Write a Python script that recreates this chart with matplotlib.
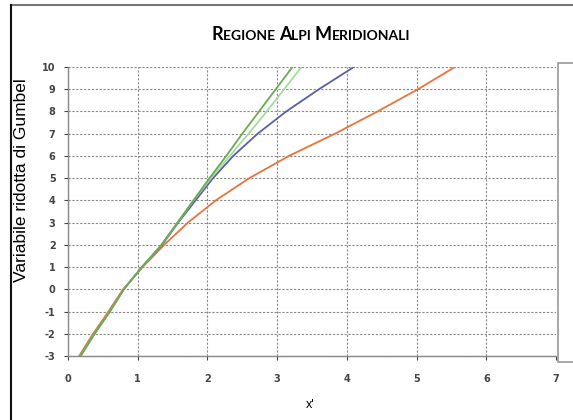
import numpy as np
import matplotlib
matplotlib.use("Agg")
import matplotlib.pyplot as plt
from matplotlib.lines import Line2D
from matplotlib.patches import Rectangle
from matplotlib.offsetbox import TextArea, HPacker, AnchoredOffsetbox

plt.rcParams["axes.unicode_minus"] = False

# variabile ridotta di Gumbel (asse y) e valori di x' letti per ogni curva
y_gumbel = [-3, -2, -1, 0, 1, 2, 3, 4, 5, 6, 7, 8, 9, 10]
x_arancio = [0.16, 0.36, 0.58, 0.79, 1.07, 1.38, 1.72, 2.12, 2.60, 3.17, 3.83, 4.44, 5.02, 5.55]
x_blu = [0.18, 0.38, 0.60, 0.80, 1.06, 1.35, 1.58, 1.83, 2.08, 2.37, 2.72, 3.13, 3.60, 4.10]
x_verde_chiaro = [0.18, 0.38, 0.60, 0.80, 1.06, 1.34, 1.57, 1.80, 2.05, 2.32, 2.59, 2.85, 3.10, 3.35]
x_verde = [0.18, 0.38, 0.60, 0.80, 1.06, 1.34, 1.57, 1.80, 2.03, 2.27, 2.50, 2.74, 2.98, 3.22]

W, H = 573, 420
fig = plt.figure(figsize=(W / 100, H / 100), dpi=100)
fig.patch.set_facecolor("white")

ax = fig.add_axes([68 / W, 1 - 356 / H, (556 - 68) / W, (356 - 67) / H])

ax.plot(x_arancio, y_gumbel, color="#e8743b", lw=1.3, zorder=3)
ax.plot(x_blu, y_gumbel, color="#5b5ea6", lw=1.3, zorder=3)
ax.plot(x_verde_chiaro, y_gumbel, color="#a6dba0", lw=1.3, zorder=3)
ax.plot(x_verde, y_gumbel, color="#6aaa52", lw=1.3, zorder=4)

ax.set_xlim(0, 7)
ax.set_ylim(-3, 10)
ax.set_xticks(range(0, 8))
ax.set_yticks(range(-3, 11))
ax.grid(True, color="#888888", linestyle=(0, (2, 1.5)), linewidth=0.8)
ax.set_axisbelow(True)
for s in ["top", "right"]:
    ax.spines[s].set_visible(False)
for s in ["left", "bottom"]:
    ax.spines[s].set_color("#888888")
    ax.spines[s].set_linewidth(1.0)
ax.tick_params(labelsize=7, colors="#444444", length=3, width=0.8)
ax.tick_params(axis="x", pad=10)
ax.tick_params(axis="y", pad=6)
for lab in ax.get_xticklabels() + ax.get_yticklabels():
    lab.set_fontweight("bold")

# titolo in maiuscoletto
parti = [("R", 13), ("EGIONE ", 10), ("A", 13), ("LPI ", 10), ("M", 13), ("ERIDIONALI", 10)]
box = HPacker(children=[TextArea(t, textprops=dict(fontsize=s, fontfamily="Lato",
                                                   fontweight="bold", color="black"))
                        for t, s in parti],
              align="baseline", pad=0, sep=0)
anch = AnchoredOffsetbox(loc="center", child=box, frameon=False, pad=0, borderpad=0,
                         bbox_to_anchor=(311 / W, 1 - 35 / H),
                         bbox_transform=fig.transFigure)
fig.add_artist(anch)

fig.text(22 / W, 1 - 180 / H, "Variabile ridotta di Gumbel", rotation=90,
         ha="center", va="center", fontsize=12.5, fontfamily="Liberation Sans")
fig.text(310 / W, 1 - 405 / H, "x'", ha="center", va="center", fontsize=9,
         fontfamily="Liberation Sans")

# cornice esterna e riquadro legenda (tagliato)
fig.add_artist(Line2D([11 / W, 1], [1 - 5 / H, 1 - 5 / H], color="#777777", lw=1.5))
fig.add_artist(Line2D([11 / W, 11 / W], [0, 1 - 5 / H], color="#111111", lw=1.5))
fig.add_artist(Rectangle((558 / W, 1 - 362 / H), 30 / W, (362 - 63) / H,
                         transform=fig.transFigure, facecolor="white",
                         edgecolor="#999999", lw=1.2))

fig.savefig("out.png", dpi=100)
